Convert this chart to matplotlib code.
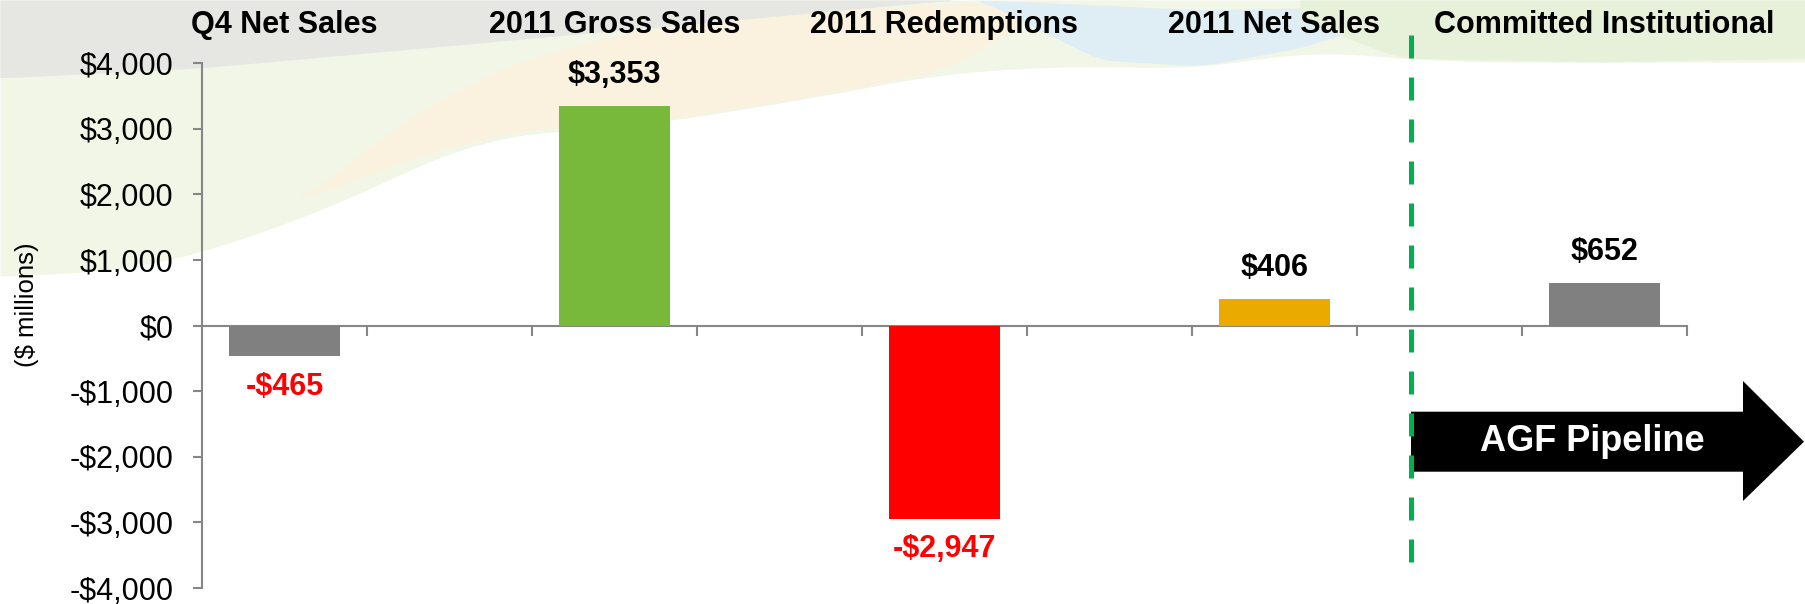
import numpy as np
import matplotlib
matplotlib.use("Agg")
import matplotlib.pyplot as plt
from matplotlib.patches import Polygon
from matplotlib.lines import Line2D
from matplotlib.ticker import FuncFormatter, FixedLocator

plt.rcParams['font.family'] = ['Liberation Sans', 'DejaVu Sans']

# data (blank slots are spacers between the bars)
categories = ["Q4 Net Sales", "", "2011 Gross Sales", "", "2011 Redemptions", "",
              "2011 Net Sales", "", "Committed Institutional"]
values = [-465, np.nan, 3353, np.nan, -2947, np.nan, 406, np.nan, 652]
bar_colors = ["#808080", "none", "#78B83A", "none", "#FF0000", "none",
              "#EBAA00", "none", "#808080"]
y_ticks = [-4000, -3000, -2000, -1000, 0, 1000, 2000, 3000, 4000]

W, H = 1806, 604
fig = plt.figure(figsize=(W / 100, H / 100), dpi=100)
fig.patch.set_facecolor("white")

# soft background swooshes (pixel coords), purely decorative
bg = fig.add_axes([0, 0, 1, 1], zorder=-5)
bg.set_xlim(0, W)
bg.set_ylim(H, 0)
bg.axis("off")


def swoosh(xs, top, bottom, color, alpha=1.0):
    # smooth band between two curves given at a few control points
    xx = np.linspace(xs[0], xs[-1], 200)
    t = np.interp(xx, xs, top)
    b = np.interp(xx, xs, bottom)
    k = np.ones(15) / 15
    t = np.convolve(np.pad(t, 7, mode="edge"), k, mode="valid")
    b = np.convolve(np.pad(b, 7, mode="edge"), k, mode="valid")
    bg.fill_between(xx, t, b, color=color, alpha=alpha, lw=0)


# pale green wash over the whole top
swoosh([0, 150, 300, 400, 480, 650, 800, 950, 1100, 1200, 1300, 1450, 1806],
       [0] * 13,
       [277, 268, 220, 175, 138, 124, 100, 72, 65, 70, 50, 62, 62], "#F1F6E6")
# cream / peach band
swoosh([300, 420, 520, 650, 800, 950, 1060],
       [200, 110, 60, 28, 12, 4, 0],
       [200, 155, 130, 122, 98, 68, 0], "#FBF1DF")
# grey band top left
swoosh([0, 200, 400, 600, 800, 950],
       [0, 0, 0, 0, 0, 0],
       [78, 68, 50, 32, 14, 0], "#E6E6E3")
# blue at top middle-right
swoosh([980, 1100, 1200, 1300, 1450],
       [0, 5, 10, 8, 0],
       [0, 60, 66, 48, 0], "#DFEEF5")
# green at top right
swoosh([1300, 1400, 1600, 1806],
       [0, 0, 0, 0],
       [20, 58, 62, 58], "#E7F0D8")

ax = fig.add_axes([202 / W, 1 - 588 / H, (1687 - 202) / W, (588 - 63.3) / H])
ax.set_facecolor("none")

x = np.arange(len(categories))
ax.bar(x, values, width=0.67, color=bar_colors, zorder=3)

ax.set_xlim(-0.5, len(categories) - 0.5)
ax.set_ylim(-4000, 4000)
ax.set_yticks(y_ticks)
ax.yaxis.set_major_formatter(FuncFormatter(
    lambda v, p: f"-${abs(v):,.0f}" if v < 0 else f"${v:,.0f}"))
ax.tick_params(axis="y", labelsize=22, length=6.5, width=1.5, color="#868686", pad=14)

ax.xaxis.set_major_locator(FixedLocator(np.arange(0.5, len(categories), 1.0)))
ax.tick_params(axis="x", labelbottom=False, length=7, width=1.5, color="#868686")

for side in ["top", "right"]:
    ax.spines[side].set_visible(False)
ax.spines["bottom"].set_position(("data", 0))
for side in ["left", "bottom"]:
    ax.spines[side].set_color("#868686")
    ax.spines[side].set_linewidth(1.5)

# value labels
for i, v in enumerate(values):
    if np.isnan(v):
        continue
    txt = f"-${abs(v):,.0f}" if v < 0 else f"${v:,.0f}"
    ax.annotate(txt, (i, v), xytext=(0, 22 if v > 0 else -22), textcoords="offset points",
                ha="center", va="center", fontsize=22, fontweight="bold",
                color="red" if v < 0 else "black")

# category headers along the top
for i, c in enumerate(categories):
    if c:
        ax.text(i, 1 + 38.5 / 524.7, c, transform=ax.get_xaxis_transform(),
                ha="center", va="center", fontsize=22, fontweight="bold")

fig.text(27 / W, 1 - 304.5 / H, "($ millions)", rotation=90, ha="center", va="center", fontsize=18.5)

# pipeline arrow
arrow_px = [(1411, 411.7), (1743, 411.7), (1743, 381), (1804, 441.7),
            (1743, 501), (1743, 471.7), (1411, 471.7)]
fig.add_artist(Polygon([(px / W, 1 - py / H) for px, py in arrow_px],
                       closed=True, transform=fig.transFigure, facecolor="black", edgecolor="none"))
fig.text(1592.5 / W, 1 - 441.7 / H, "AGF Pipeline", color="white", fontsize=26,
         fontweight="bold", ha="center", va="center")

# dashed separator
fig.add_artist(Line2D([1411 / W, 1411 / W], [1 - 34.6 / H, 1 - 565 / H], transform=fig.transFigure,
                      color="#00B050", lw=3.6, linestyle=(0, (4.6, 3.8))))

fig.savefig("out.png", dpi=100)
